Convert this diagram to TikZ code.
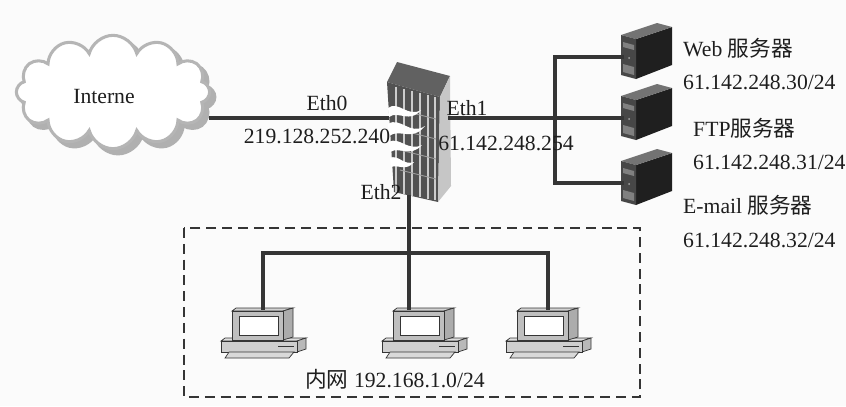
\documentclass[tikz,border=0pt]{standalone}
\usepackage{fontspec}
\setmainfont{Liberation Serif}
\newfontfamily\cjk{Noto Sans CJK SC}
\usetikzlibrary{shapes.symbols}

\definecolor{wirecol}{HTML}{353535}
\definecolor{ink}{HTML}{1e1e1e}

\tikzset{
  % tower server, origin at the cable port on the front edge
  server/.pic={
    \fill[black!88] (14,-18) -- (50,-30) -- (50,8) -- (14,22) -- cycle;
    \fill[black!55] (-1,-22) -- (35,-34) -- (50,-30) -- (14,-18) -- cycle;
    \fill[black!72] (-1,-22) -- (14,-18) -- (14,22) -- (-1,18) -- cycle;
    \fill[black!50] (1,-15) -- (12,-12) -- (12,-7) -- (1,-10) -- cycle;
    \fill[black!50] (1,7) -- (12,10) -- (12,18) -- (1,15) -- cycle;
    \fill[black!35] (7,1) circle (1);
    \coordinate (-port) at (0,0);
  },
  % desktop pc, origin at the top left of the monitor
  workstation/.pic={
    \filldraw[fill=gray!25,draw=wirecol,line width=0.6pt] (-11,33) -- (-7,30) -- (74,30) -- (65,33) -- cycle;
    \filldraw[fill=gray!55,draw=wirecol,line width=0.6pt] (65,33) -- (74,30) -- (74,41) -- (65,44) -- cycle;
    \filldraw[fill=gray!38,draw=wirecol,line width=0.6pt] (-11,33) rectangle (65,44);
    \draw[wirecol,line width=1.4pt] (46,38.5) -- (62,38.5);
    \filldraw[fill=gray!30,draw=wirecol,line width=0.6pt] (-3,44) -- (62,44) -- (57,50) -- (-7,50) -- cycle;
    \filldraw[fill=gray!35,draw=wirecol,line width=0.6pt] (0,3) -- (4,0) -- (61,0) -- (51,3) -- cycle;
    \filldraw[fill=gray!65,draw=wirecol,line width=0.6pt] (51,3) -- (61,0) -- (61,29) -- (51,32) -- cycle;
    \filldraw[fill=gray!50,draw=wirecol,line width=0.6pt] (0,3) rectangle (51,32);
    \filldraw[fill=white,draw=wirecol,line width=0.8pt] (7,8) rectangle (46,27);
    \coordinate (-top) at (31,0);
  }
}

\begin{document}
\begin{tikzpicture}[x=0.03cm,y=-0.03cm]
\tikzset{
  wire/.style={draw=wirecol,line width=3pt,line cap=rect},
  lbl/.style={inner sep=0pt,text=ink,font=\fontsize{18.5}{21}\selectfont},
  cloudshape/.style={cloud,cloud puffs=12,aspect=1.7,minimum width=5.8cm,minimum height=3.4cm,inner sep=0pt}
}
\useasboundingbox[fill=gray!3] (0,0) rectangle (846,406);

% internet cloud with shadow
\node[cloudshape,fill=gray!62,draw=gray!62,line width=3pt] (cloudshade) at (118,97) {};
\node[cloudshape,fill=white,draw=gray!58,line width=2.6pt] (cloud) at (113,92) {};
\node[lbl] (inet) at (104,97) {Interne};

% firewall
\fill[black!62] (387,82) -- (397,62) -- (450,76) -- (440,97) -- cycle;
\fill[black!68] (387,82) -- (440,97) -- (438,202) -- (394,192) -- cycle;
\fill[gray!45] (440,97) -- (450,76) -- (451,186) -- (438,202) -- cycle;
\foreach \bx in {396,404,412,420,428,435}
  \draw[gray!40,line width=1pt] (\bx,{84+(\bx-387)*0.28}) -- (\bx,{192+(\bx-394)*0.2});
\foreach \by in {110,130,150,170}
  \draw[black!40,line width=0.8pt] (400,\by) -- (436,\by+9);
% flames on the wall
\fill[white] (388,108) .. controls (398,100) and (408,118) .. (421,110)
  .. controls (410,124) and (398,110) .. (389,117) -- cycle;
\fill[white] (388,124) .. controls (400,116) and (410,136) .. (425,126)
  .. controls (412,142) and (400,128) .. (389,136) -- cycle;
\fill[white] (389,142) .. controls (399,136) and (408,152) .. (422,145)
  .. controls (410,158) and (400,146) .. (390,152) -- cycle;
\fill[white] (390,158) .. controls (398,154) and (404,166) .. (414,162)
  .. controls (406,172) and (398,164) .. (391,167) -- cycle;
\coordinate (eth0) at (387,118);
\coordinate (eth1) at (450,118);
\coordinate (eth2) at (409,197);

% servers
\pic (web) at (622,57) {server};
\pic (ftp) at (622,118) {server};
\pic (mail) at (622,183) {server};
\coordinate (hub) at (555,118);

% internal workstations
\pic (pc1) at (232,308) {workstation};
\pic (pc2) at (393,308) {workstation};
\pic (pc3) at (517,308) {workstation};
\coordinate (bus) at (409,253);

% cabling
\draw[wire] (eth0) -- (eth0 -| cloud.east);
\draw[wire] (eth1) -- (hub);
\draw[wire] (web-port) -| (hub) |- (mail-port);
\draw[wire] (hub) -- (ftp-port);
\draw[wire] (eth2) -- (eth2 |- pc2-top);
\draw[wire] (pc1-top) |- (bus) -| (pc3-top);

% intranet frame
\draw[wirecol,line width=2.2pt,dash pattern=on 8.5pt off 5pt] (184,228) rectangle (640,397);

% labels
\node[lbl] (e0) at (327,103) {Eth0};
\node[lbl] (ip0) at (317,136) {219.128.252.240};
\node[lbl] (e1) at (467,108) {Eth1};
\node[lbl] (ip1) at (506,143) {61.142.248.254};
\node[lbl] (e2) at (381,192) {Eth2};
\node[lbl,anchor=west] (webname) at (683,48) {Web {\cjk 服务器}};
\node[lbl,anchor=west] (webip) at (683,82) {61.142.248.30/24};
\node[lbl,anchor=west] (ftpname) at (693,128) {FTP{\cjk 服务器}};
\node[lbl,anchor=west] (ftpip) at (693,162) {61.142.248.31/24};
\node[lbl,anchor=west] (mailname) at (683,205) {E-mail {\cjk 服务器}};
\node[lbl,anchor=west] (mailip) at (683,240) {61.142.248.32/24};
\node[lbl] (lan) at (395,379) {{\cjk 内网} 192.168.1.0/24};
\end{tikzpicture}
\end{document}
